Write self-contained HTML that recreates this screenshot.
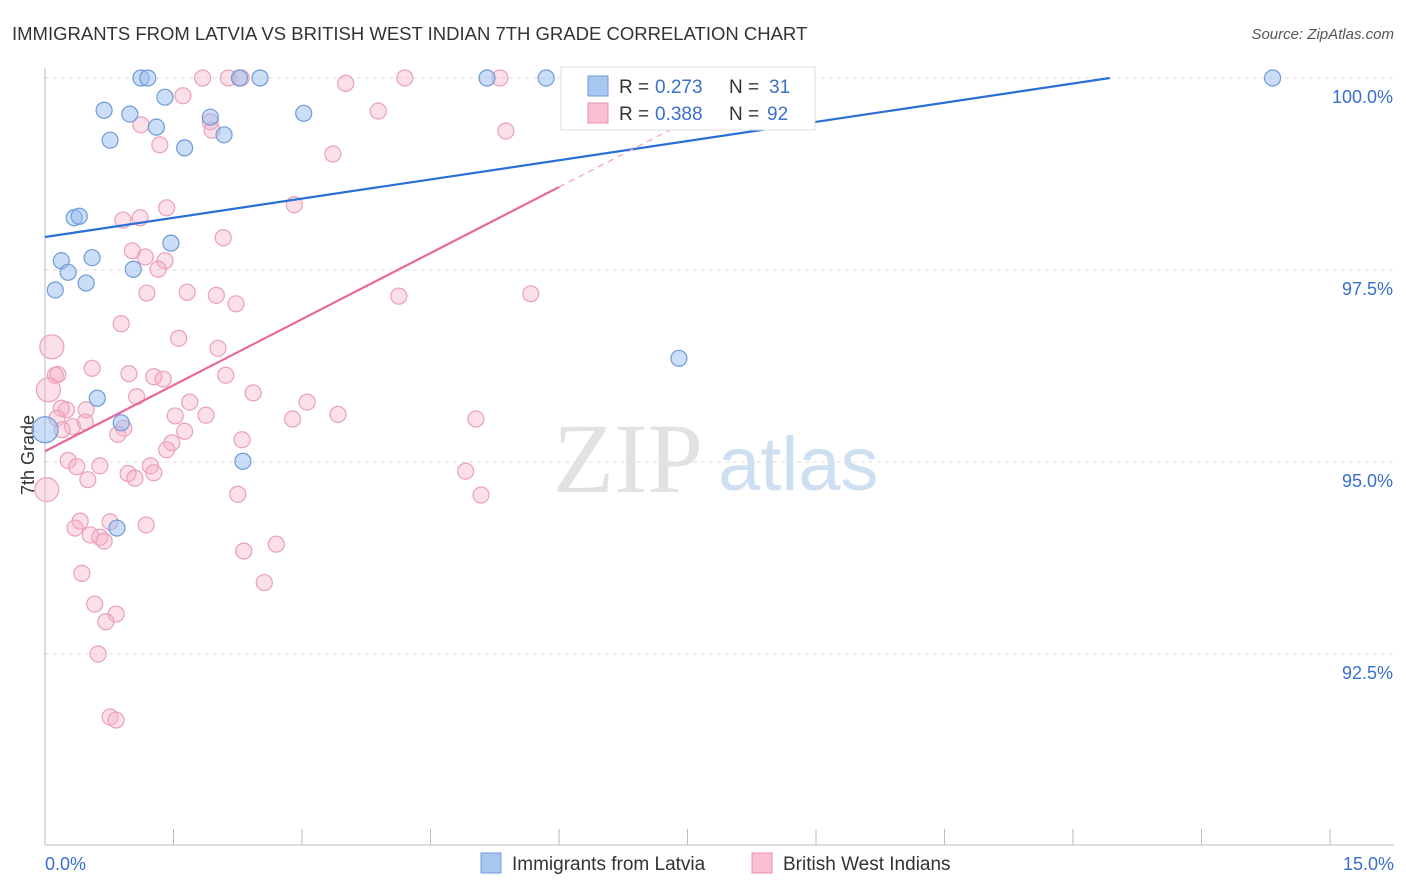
<!DOCTYPE html>
<html><head><meta charset="utf-8">
<style>
body{margin:0;background:#fff;font-family:"Liberation Sans",sans-serif;}
#wrap{position:relative;width:1406px;height:892px;overflow:hidden;}
</style></head>
<body>
<div id="wrap">
<svg id="svg" width="1406" height="892" xmlns="http://www.w3.org/2000/svg">
<text x="12" y="40" font-size="18.5" fill="#333">IMMIGRANTS FROM LATVIA VS BRITISH WEST INDIAN 7TH GRADE CORRELATION CHART</text>
<text x="1394" y="39" font-size="15" fill="#555" font-style="italic" text-anchor="end">Source: ZipAtlas.com</text>
<text x="553" y="492" font-size="100" fill="#e2e2e2" font-family="Liberation Serif">ZIP</text>
<text x="718" y="490" font-size="76" fill="#cfdff2">atlas</text>
<text transform="translate(34,455) rotate(-90)" font-size="18" fill="#333" text-anchor="middle">7th Grade</text>
<g id="grid"></g><g id="marks"></g><g id="lines"></g>
<g>
<rect x="561" y="67" width="254" height="63" fill="#fff" stroke="#ddd"/>
<rect x="588" y="76" width="20" height="20" fill="#a9c8f0" stroke="#6f9ad8"/>
<text y="93" font-size="19" fill="#333"><tspan x="619">R =</tspan><tspan x="655" fill="#3a6fcf">0.273</tspan><tspan x="729">N =</tspan><tspan x="769" fill="#3a6fcf">31</tspan></text>
<rect x="588" y="103" width="20" height="20" fill="#f8c0d2" stroke="#e890ab"/>
<text y="120" font-size="19" fill="#333"><tspan x="619">R =</tspan><tspan x="655" fill="#3a6fcf">0.388</tspan><tspan x="729">N =</tspan><tspan x="767" fill="#3a6fcf">92</tspan></text>
</g>
<g>
<rect x="481" y="853" width="20" height="20" fill="#a9c8f0" stroke="#6f9ad8"/>
<text x="512" y="870" font-size="19" fill="#333">Immigrants from Latvia</text>
<rect x="752" y="853" width="20" height="20" fill="#f8c0d2" stroke="#e890ab"/>
<text x="783" y="870" font-size="19" fill="#333">British West Indians</text>
</g>
<text x="45" y="870" font-size="18" fill="#3a6fcf">0.0%</text>
<text x="1394" y="870" font-size="18" fill="#3a6fcf" text-anchor="end">15.0%</text>
</svg>
</div>
<script>
const yTicks=[100,97.5,95,92.5];
const yTickLabels=["100.0%","97.5%","95.0%","92.5%"];
const blueX=[1.12,1.20,2.27,2.51,5.16,5.85,14.33,1.40,0.69,0.99,1.93,3.02,1.30,2.09,0.76,1.63,0.34,0.40,1.47,0.19,0.55,0.27,1.03,0.48,0.12,7.40,0.61,0.89,2.31,0.84,0.0];
const blueY=[100,100,100,100,100,100,100,99.75,99.58,99.53,99.49,99.54,99.36,99.26,99.19,99.09,98.18,98.20,97.85,97.62,97.66,97.47,97.51,97.33,97.24,96.35,95.83,95.51,95.01,94.14,95.42];
const blueR=[8,8,8,8,8,8,8,8,8,8,8,8,8,8,8,8,8,8,8,8,8,8,8,8,8,8,8,8,8,8,13];
const pinkX=[1.84,2.14,2.29,4.20,5.31,3.51,1.61,3.89,1.93,1.12,1.95,5.38,1.34,3.36,1.42,2.91,1.11,0.91,2.08,1.02,1.17,1.40,1.32,1.19,1.66,2.00,2.23,4.13,5.67,0.89,1.56,0.08,2.02,0.55,0.12,0.15,0.98,1.27,1.38,2.11,0.04,1.07,2.43,1.69,3.06,0.25,0.48,0.19,1.52,1.88,3.42,2.89,5.03,0.14,0.32,0.20,0.47,0.92,0.85,1.63,1.48,1.42,2.30,0.27,0.64,0.37,1.23,0.97,1.27,1.05,0.50,4.91,0.02,2.25,5.09,0.76,0.41,0.35,1.18,0.53,0.64,0.69,2.32,2.70,0.43,2.56,0.58,0.83,0.71,0.62,0.76,0.83];
const pinkY=[100,100,100,100,100,99.93,99.77,99.57,99.43,99.39,99.32,99.31,99.13,99.01,98.31,98.35,98.18,98.15,97.92,97.75,97.67,97.62,97.51,97.20,97.21,97.17,97.06,97.16,97.19,96.80,96.61,96.50,96.48,96.22,96.13,96.14,96.15,96.11,96.08,96.13,95.94,95.85,95.90,95.78,95.78,95.68,95.68,95.70,95.60,95.61,95.62,95.56,95.56,95.57,95.46,95.42,95.52,95.44,95.36,95.40,95.25,95.16,95.29,95.02,94.95,94.94,94.95,94.85,94.86,94.79,94.77,94.88,94.64,94.58,94.57,94.22,94.23,94.14,94.18,94.05,94.02,93.97,93.84,93.93,93.55,93.43,93.15,93.02,92.92,92.50,91.68,91.64];
const pinkR=pinkX.map((x,i)=>i==31||i==40||i==72?12:8);
const blueLine=[0,97.93,12.43,100];
const pinkLine=[0,95.14,6.0,98.58,7.3];
const X=v=>45+v/15*1285, Y=v=>78+(100-v)*76.8;
const NS="http://www.w3.org/2000/svg";
function mk(t,a,p){const e=document.createElementNS(NS,t);for(const k in a)e.setAttribute(k,a[k]);p.appendChild(e);return e;}
const g=document.getElementById('grid');
yTicks.forEach((t,i)=>{
 const l=mk('line',{x1:45,x2:1394,y1:Y(t),y2:Y(t),stroke:'#ddd','stroke-dasharray':'4,4'},g);
 
 
 const tx=mk('text',{x:1393,y:Y(t)+25,'font-size':18,fill:'#3a6fcf','text-anchor':'end'},g);tx.textContent=yTickLabels[i];
 
 
});
mk('line',{x1:45,x2:45,y1:68,y2:845,stroke:'#bbb'},g);
mk('line',{x1:45,x2:1394,y1:845,y2:845,stroke:'#bbb'},g);
for(let i=0;i<=10;i++){const t=mk('line',{x1:X(i*1.5),x2:X(i*1.5),y1:829,y2:845,stroke:'#bbb'},g);
 
 }
const m=document.getElementById('marks');
pinkX.forEach((x,i)=>{const c=mk('circle',{cx:X(x),cy:Y(pinkY[i]),r:pinkR[i],fill:'rgba(245,175,200,0.4)',stroke:'#eaa0b8','stroke-width':1.2},m);
 
 });
blueX.forEach((x,i)=>{const c=mk('circle',{cx:X(x),cy:Y(blueY[i]),r:blueR[i],fill:'rgba(150,190,240,0.5)',stroke:'#6f9ad8','stroke-width':1.2},m);
 
 });
const L=document.getElementById('lines');
const bl=mk('line',{x1:X(blueLine[0]),y1:Y(blueLine[1]),x2:X(blueLine[2]),y2:Y(blueLine[3]),stroke:'#2a6fd6','stroke-width':2.2},L);


const ps=(pinkLine[3]-pinkLine[1])/(pinkLine[2]-pinkLine[0]);
const pl=mk('line',{x1:X(pinkLine[0]),y1:Y(pinkLine[1]),x2:X(pinkLine[2]),y2:Y(pinkLine[3]),stroke:'#e8689a','stroke-width':2.2},L);


const pd=mk('line',{x1:X(pinkLine[2]),y1:Y(pinkLine[3]),x2:X(pinkLine[4]),y2:Y(pinkLine[1]+ps*pinkLine[4]),stroke:'#f0a0bc','stroke-width':1.2,'stroke-dasharray':'6,5'},L);


</script>
</body></html>
